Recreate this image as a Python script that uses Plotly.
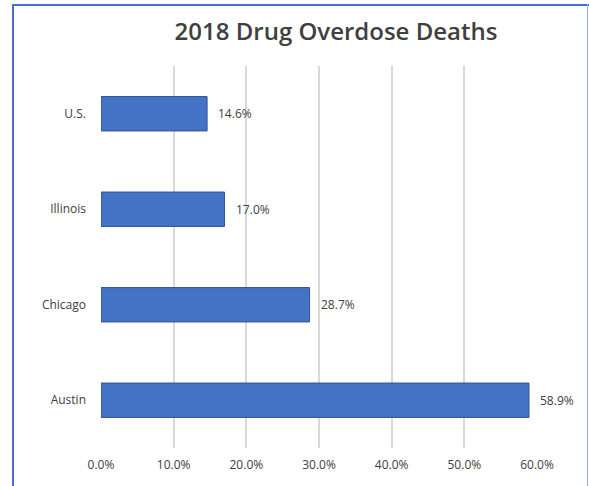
import plotly.graph_objects as go

categories = ["U.S.", "Illinois", "Chicago", "Austin"]
values = [0.146, 0.170, 0.287, 0.589]
x_ticks = [0, 0.1, 0.2, 0.3, 0.4, 0.5, 0.6]
x_tick_labels = ["0.0%", "10.0%", "20.0%", "30.0%", "40.0%", "50.0%", "60.0%"]
title = "2018 Drug Overdose Deaths"

W, H = 589, 486
L, R, T, B = 101, 52, 66, 38
pw, ph = W - L - R, H - T - B

def px(x):
    return (x - L) / pw

def py(y):
    return (H - B - y) / ph

fig = go.Figure(go.Bar(
    y=categories,
    x=values,
    orientation="h",
    width=0.36,
    marker=dict(color="#4472C4", line=dict(color="#2F5597", width=1)),
    cliponaxis=False,
))

for c, v in zip(categories, values):
    fig.add_annotation(x=v, y=c, xref="x", yref="y", text=f"{v*100:.1f}%",
                       showarrow=False, xanchor="left", xshift=9,
                       font=dict(family="Open Sans", size=12, color="#404040"))

border = "#4472C4"
shapes = [
    dict(type="line", xref="paper", yref="paper", x0=px(13), x1=px(13), y0=py(4), y1=py(490),
         line=dict(color=border, width=2)),
    dict(type="line", xref="paper", yref="paper", x0=px(12), x1=px(589), y0=py(5), y1=py(5),
         line=dict(color=border, width=2)),
    dict(type="line", xref="paper", yref="paper", x0=px(587.5), x1=px(587.5), y0=py(4), y1=py(490),
         line=dict(color="#8FAADC", width=1)),
]

fig.update_layout(
    width=W, height=H,
    margin=dict(l=L, r=R, t=T, b=B),
    paper_bgcolor="white",
    plot_bgcolor="white",
    showlegend=False,
    title=dict(text=title, x=336 / W, xref="container", xanchor="center",
               y=1 - 32 / H, yanchor="middle",
               font=dict(family="Open Sans", size=24, color="#404040", weight=600)),
    xaxis=dict(range=[0, 0.6], tickvals=x_ticks, ticktext=x_tick_labels,
               showgrid=True, gridcolor="#D9D9D9", gridwidth=1.5, zeroline=False,
               showline=False, ticks="", ticklen=0, ticklabelstandoff=8,
               tickfont=dict(family="Open Sans", size=12, color="#404040")),
    yaxis=dict(autorange="reversed", showgrid=False, zeroline=False, showline=False,
               ticks="", ticklabelstandoff=14,
               tickfont=dict(family="Open Sans", size=12, color="#404040")),
    shapes=shapes,
    font=dict(family="Open Sans"),
)

fig.write_html("out.html")
